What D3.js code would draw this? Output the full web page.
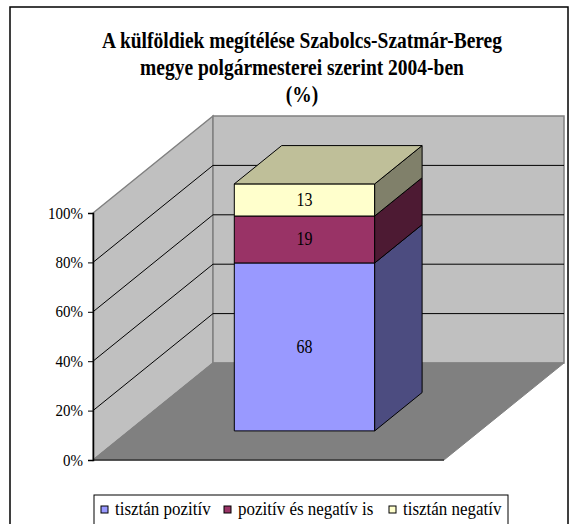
<!DOCTYPE html>
<html>
<head>
<meta charset="utf-8">
<script src="https://cdn.jsdelivr.net/npm/d3@7"></script>
<style>
  html, body { margin: 0; padding: 0; background: #fff; }
  svg { display: block; }
  svg text { font-family: "Liberation Serif", "Times New Roman", "DejaVu Serif", serif; }
</style>
</head>
<body>
<svg id="chart" width="578" height="524"></svg>
<script>
// Chart content
const titleLines = [
  "A külföldiek megítélése Szabolcs-Szatmár-Bereg",
  "megye polgármesterei szerint 2004-ben",
  "(%)"
];
const categories = ["2004"];
const seriesNames = ["tisztán pozitív", "pozitív és negatív is", "tisztán negatív"];
const seriesValues = [68, 19, 13];
const yTicks = [0, 20, 40, 60, 80, 100];
const yTickLabels = ["0%", "20%", "40%", "60%", "80%", "100%"];

// Face colours per series: front, side (darker), top
const frontColors = ["#9999FF", "#993366", "#FFFFCC"];
const sideColors = ["#4C4C80", "#4D1A33", "#80806A"];
const topColors = ["#BFBFFF", "#B36680", "#BFBF99"];

const FONT = "'Liberation Serif', 'Times New Roman', 'DejaVu Serif', serif";
const TEXT_SY = 1.15; // glyphs are drawn slightly taller than wide
const svg = d3.select("#chart");

// Layout of the 3D box
const front = { left: 93, right: 444, bottom: 460, top: 213 };
const depth = { dx: 120, dy: 97 };
const barDepth = { z0: 0.3, z1: 0.695 };

const y = d3.scaleLinear().domain([0, 100]).range([front.bottom, front.top]);
const x = d3.scaleBand().domain(categories).range([front.left, front.right])
  .paddingInner(0).paddingOuter(0.75);

// project (screen x on the front plane, value, depth fraction) to screen
const P = (px, v, z) => [px + depth.dx * z, y(v) - depth.dy * z];
const poly = pts => pts.map(p => p.join(",")).join(" ");
const place = (tx, ty) => `translate(${tx},${ty}) scale(1,${TEXT_SY})`;

// Outer frame
svg.append("rect").attr("x", 10).attr("y", 7).attr("width", 558).attr("height", 530)
  .attr("fill", "#fff").attr("stroke", "#000").attr("stroke-width", 1.5);

// Title
svg.append("g").selectAll("text").data(titleLines).join("text")
  .attr("transform", (d, i) => place(302, 48 + i * 27))
  .attr("text-anchor", "middle")
  .attr("font-family", FONT)
  .attr("font-weight", "bold").attr("font-size", 19.5)
  .attr("fill", "#000")
  .text(d => d);

const walls = svg.append("g");
// Side (left) wall
walls.append("polygon")
  .attr("points", poly([P(front.left, 0, 0), P(front.left, 100, 0), P(front.left, 100, 1), P(front.left, 0, 1)]))
  .attr("fill", "#C0C0C0").attr("stroke", "#808080").attr("stroke-width", 1.5);
// Back wall
walls.append("polygon")
  .attr("points", poly([P(front.left, 0, 1), P(front.left, 100, 1), P(front.right, 100, 1), P(front.right, 0, 1)]))
  .attr("fill", "#C0C0C0").attr("stroke", "#808080").attr("stroke-width", 1.5);
// Floor
walls.append("polygon")
  .attr("points", poly([P(front.left, 0, 0), P(front.right, 0, 0), P(front.right, 0, 1), P(front.left, 0, 1)]))
  .attr("fill", "#808080").attr("stroke", "#808080").attr("stroke-width", 1);

// Gridlines along the side wall and back wall
const gridVals = yTicks.filter(v => v > 0 && v < 100);
walls.append("g").selectAll("polyline").data(gridVals).join("polyline")
  .attr("points", v => poly([P(front.left, v, 0), P(front.left, v, 1), P(front.right, v, 1)]))
  .attr("fill", "none").attr("stroke", "#000").attr("stroke-width", 1);

// Front floor edge
walls.append("line")
  .attr("x1", front.left).attr("x2", front.right)
  .attr("y1", y(0)).attr("y2", y(0))
  .attr("stroke", "#333").attr("stroke-width", 1.5);

// Y axis
const yAxis = d3.axisLeft(y).tickValues(yTicks).tickSize(5).tickPadding(3)
  .tickFormat((d, i) => yTickLabels[i]);
const ag = svg.append("g").attr("transform", `translate(${front.left},0)`).call(yAxis);
ag.attr("font-family", FONT).attr("font-size", 15);
ag.select(".domain").attr("stroke", "#000").attr("stroke-width", 1.5);
ag.selectAll(".tick line").attr("stroke", "#000");
ag.selectAll(".tick text").attr("font-family", FONT)
  .attr("font-size", 15).attr("fill", "#000")
  .attr("x", null).attr("dy", null)
  .attr("transform", place(-10, 5));

// Stacked 3D bar
const stacked = [];
let acc = 0;
seriesValues.forEach((v, i) => { stacked.push({ i, v, y0: acc, y1: acc + v }); acc += v; });

const bx0 = x(categories[0]);
const bx1 = bx0 + x.bandwidth();
const { z0, z1 } = barDepth;
const bars = svg.append("g");

stacked.forEach(s => {
  // front face
  bars.append("polygon")
    .attr("points", poly([P(bx0, s.y0, z0), P(bx1, s.y0, z0), P(bx1, s.y1, z0), P(bx0, s.y1, z0)]))
    .attr("fill", frontColors[s.i]).attr("stroke", "#000").attr("stroke-width", 1);
  // right side face
  bars.append("polygon")
    .attr("points", poly([P(bx1, s.y0, z0), P(bx1, s.y0, z1), P(bx1, s.y1, z1), P(bx1, s.y1, z0)]))
    .attr("fill", sideColors[s.i]).attr("stroke", "#000").attr("stroke-width", 1);
});
// top face of the last segment
const last = stacked[stacked.length - 1];
bars.append("polygon")
  .attr("points", poly([P(bx0, last.y1, z0), P(bx1, last.y1, z0), P(bx1, last.y1, z1), P(bx0, last.y1, z1)]))
  .attr("fill", topColors[last.i]).attr("stroke", "#000").attr("stroke-width", 1);

// Value labels
bars.selectAll("text.val").data(stacked).join("text")
  .attr("class", "val")
  .attr("transform", d => place(P((bx0 + bx1) / 2, 0, z0)[0], P(0, (d.y0 + d.y1) / 2, z0)[1] + 6))
  .attr("text-anchor", "middle")
  .attr("font-family", FONT)
  .attr("font-size", 16).attr("fill", "#000")
  .text(d => d.v);

// Legend
const lg = svg.append("g");
lg.append("rect").attr("x", 94).attr("y", 495).attr("width", 414).attr("height", 40)
  .attr("fill", "#fff").attr("stroke", "#000").attr("stroke-width", 1);
const legendX = [101, 224, 389];
seriesNames.forEach((name, i) => {
  lg.append("rect").attr("x", legendX[i]).attr("y", 506).attr("width", 7).attr("height", 7)
    .attr("fill", frontColors[i]).attr("stroke", "#000").attr("stroke-width", 1);
  lg.append("text").attr("transform", place(legendX[i] + 14, 515))
    .attr("font-family", FONT)
    .attr("font-size", 17).attr("fill", "#000").text(name);
});
</script>
</body>
</html>
